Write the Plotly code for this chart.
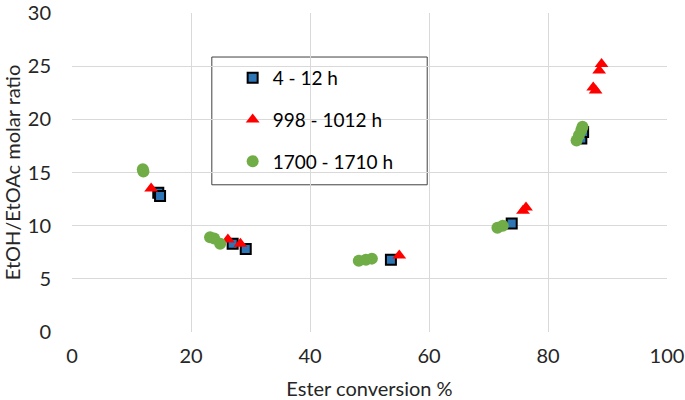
import plotly.graph_objects as go

# 4 - 12 h
x_early = [14.5, 14.8, 27.0, 29.2, 53.6, 73.9, 85.6, 85.9]
y_early = [13.1, 12.8, 8.3, 7.8, 6.8, 10.2, 18.2, 18.8]

# 998 - 1012 h
x_mid = [13.3, 26.2, 28.3, 55.0, 75.8, 76.3, 87.6, 88.0, 88.6, 89.0]
y_mid = [13.5, 8.7, 8.3, 7.2, 11.4, 11.7, 23.0, 22.7, 24.6, 25.2]

# 1700 - 1710 h
x_late = [11.9, 12.0, 23.2, 23.9, 24.9, 48.2, 49.4, 50.4, 71.5, 72.4, 84.8, 85.2, 85.6, 85.8]
y_late = [15.3, 15.1, 8.9, 8.8, 8.3, 6.7, 6.8, 6.9, 9.8, 10.0, 18.0, 18.5, 19.0, 19.3]

names = ["4 - 12 h", "998 - 1012 h", "1700 - 1710 h"]

font = "Lato, 'Open Sans', sans-serif"

fig = go.Figure()
fig.add_trace(go.Scatter(
    x=x_early, y=y_early, mode="markers", name=names[0], legendgroup="a",
    marker=dict(symbol="square", size=10, color="#2e75b6", line=dict(color="black", width=2))))
fig.add_trace(go.Scatter(
    x=x_mid, y=y_mid, mode="markers", name=names[1], legendgroup="b",
    marker=dict(symbol="triangle-up", size=12, color="#ff0000", line=dict(width=0))))
fig.add_trace(go.Scatter(
    x=x_late, y=y_late, mode="markers", name=names[2], legendgroup="c",
    marker=dict(symbol="circle", size=12, color="#70ad47", line=dict(width=0))))

# legend frame drawn as a shape so it can be wider than the text
fig.add_shape(type="rect", xref="paper", yref="paper",
              x0=0.235, x1=0.597, y0=0.4615, y1=0.862,
              line=dict(color="#404040", width=1), fillcolor="white", layer="below")

fig.update_layout(
    width=685, height=400,
    margin=dict(l=72, r=18, t=13, b=68),
    paper_bgcolor="white", plot_bgcolor="white",
    font=dict(family=font, size=20, color="#262626"),
    showlegend=True,
    legend=dict(
        x=0.27, y=0.856, xanchor="left", yanchor="top",
        bgcolor="rgba(0,0,0,0)", borderwidth=0,
        font=dict(size=19, color="black"),
        traceorder="grouped", tracegroupgap=14,
        itemwidth=30,
    ),
    xaxis=dict(
        range=[0, 100], dtick=20, showgrid=True, gridcolor="#d9d9d9", gridwidth=1,
        zeroline=False, showline=False, ticks="", ticklabelstandoff=10,
        ticklabeloverflow="allow", automargin=False,
        title=dict(text="Ester conversion %", font=dict(size=20), standoff=17),
    ),
    yaxis=dict(
        range=[0, 30], dtick=5, showgrid=True, gridcolor="#d9d9d9", gridwidth=1,
        zeroline=False, showline=False, ticks="", ticklabelstandoff=20,
        ticklabeloverflow="allow", automargin=False,
        title=dict(text="EtOH/EtOAc molar ratio", font=dict(size=20), standoff=8),
    ),
)

fig.write_html("out.html", config={"displayModeBar": False},
               post_script="document.body.style.margin='0';")
